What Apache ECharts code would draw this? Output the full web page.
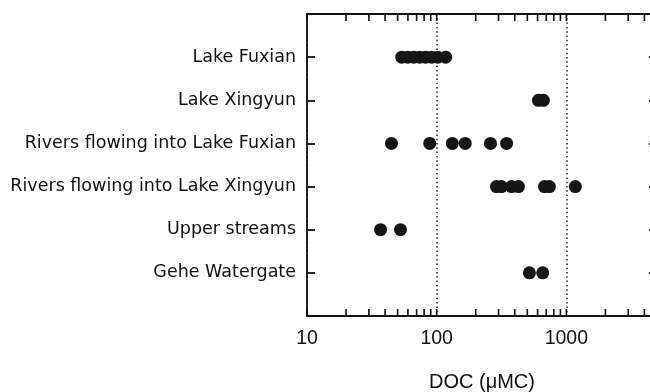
<!DOCTYPE html>
<html>
<head>
<meta charset="utf-8">
<script src="https://cdn.jsdelivr.net/npm/echarts@6/dist/echarts.min.js"></script>
<style>
html,body{margin:0;padding:0;background:#fff;}
#chart{width:650px;height:392px;}
</style>
</head>
<body>
<div id="chart"></div>
<script>
// Categories (top to bottom), padded with empty slots at both ends
const categories = ['Lake Fuxian', 'Lake Xingyun', 'Rivers flowing into Lake Fuxian',
  'Rivers flowing into Lake Xingyun', 'Upper streams', 'Gehe Watergate'];

// DOC values (µMC) per category
const lakeFuxian = [53.8, 59.8, 66.5, 74.0, 82.3, 91.5, 101.8, 117.3];
const lakeXingyun = [609, 665];
const riversFuxian = [44.8, 88.4, 132, 166, 260, 346];
const riversXingyun = [289, 316, 378, 427, 678, 740, 1173];
const upperStreams = [36.9, 52.6];
const geheWatergate = [519, 657];

// axis ticks
const majorTicks = [10, 100, 1000];
const minorTicks = [20, 30, 40, 50, 60, 70, 80, 90, 200, 300, 400, 500, 600, 700, 800, 900, 2000, 3000, 4000];
const xMin = 10, xMax = 5000;

const groups = [lakeFuxian, lakeXingyun, riversFuxian, riversXingyun, upperStreams, geheWatergate];
const yData = [' '].concat(categories).concat(['  ']);
const points = [];
groups.forEach((arr, i) => arr.forEach(v => points.push([v, i + 1])));

const allTicks = majorTicks.concat(minorTicks).map(v => [v, 0]);

const chart = echarts.init(document.getElementById('chart'), null, {renderer: 'canvas'});
const axisLineStyle = {color: '#111', width: 1.8};
chart.setOption({
  animation: false,
  backgroundColor: '#fff',
  grid: {left: 307, right: -7, top: 14, bottom: 76, containLabel: false, outerBoundsMode: 'none'},
  xAxis: [{
    type: 'log', logBase: 10, min: xMin, max: xMax, position: 'bottom',
    name: 'DOC (\u03bcMC)', nameLocation: 'middle', nameGap: 56,
    nameTextStyle: {fontFamily: 'Liberation Sans', fontSize: 20, color: '#111'},
    axisLine: {show: true, lineStyle: axisLineStyle},
    axisTick: {show: false},
    axisLabel: {
      fontFamily: 'Liberation Sans', fontSize: 19.5, color: '#111', margin: 13,
      formatter: v => { const r = Math.round(v); return majorTicks.indexOf(r) >= 0 && Math.abs(v - r) < 1e-6 * r ? String(r) : ''; }
    },
    splitLine: {show: true, lineStyle: {color: '#222', width: 1.5, type: [1.5, 2.8]}}
  }, {
    type: 'log', logBase: 10, min: xMin, max: xMax, position: 'top',
    axisLine: {show: true, lineStyle: axisLineStyle},
    axisTick: {show: false}, axisLabel: {show: false}, splitLine: {show: false}
  }],
  yAxis: [{
    type: 'category', data: yData, inverse: true, boundaryGap: false, position: 'left',
    axisLine: {show: true, lineStyle: axisLineStyle},
    axisTick: {show: true, inside: true, length: 8, interval: 0, lineStyle: axisLineStyle},
    axisLabel: {interval: 0, fontFamily: 'DejaVu Sans', fontSize: 17.5, color: '#111', margin: 11},
    splitLine: {show: false}
  }, {
    type: 'category', data: yData, inverse: true, boundaryGap: false, position: 'right',
    axisLine: {show: true, lineStyle: axisLineStyle},
    axisTick: {show: true, inside: true, length: 8, interval: 0, lineStyle: axisLineStyle},
    axisLabel: {show: false}, splitLine: {show: false}
  }],
  series: [{
    type: 'scatter', xAxisIndex: 0, yAxisIndex: 0,
    data: points, symbol: 'circle', symbolSize: 13,
    itemStyle: {color: '#151515', opacity: 1}, z: 5
  }, {
    type: 'custom', xAxisIndex: 0, yAxisIndex: 0, data: allTicks, clip: false, silent: true,
    renderItem: function (params, api) {
      const x = api.coord([api.value(0), 1])[0];
      const cs = params.coordSys;
      const top = cs.y, bottom = cs.y + cs.height;
      const len = 7;
      const style = {stroke: '#111', lineWidth: 1.6};
      return {
        type: 'group',
        children: [
          {type: 'line', shape: {x1: x, y1: bottom, x2: x, y2: bottom - len}, style: style},
          {type: 'line', shape: {x1: x, y1: top, x2: x, y2: top + len}, style: style}
        ]
      };
    }
  }]
});
</script>
</body>
</html>
